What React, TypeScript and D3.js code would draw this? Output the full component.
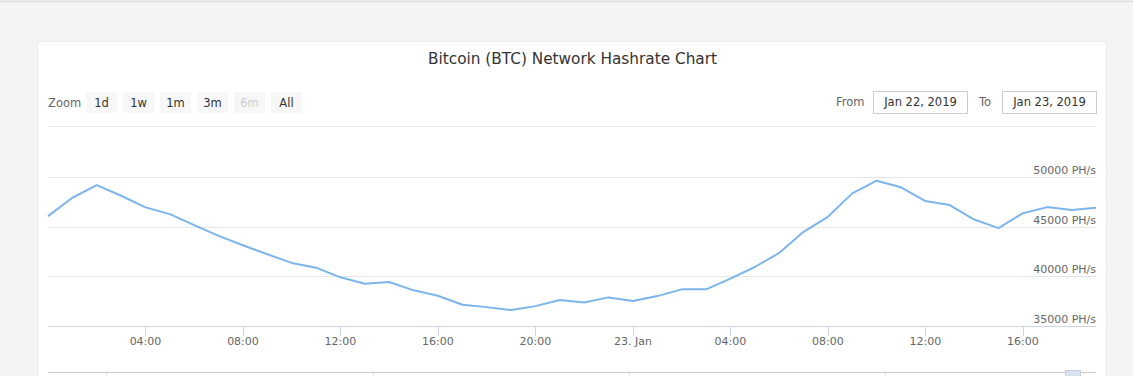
import React from "react";
import * as d3 from "d3";

const hashrate: number[] = [
  46060, 47910, 49190, 48110, 46940, 46260, 45150, 44070, 43130, 42220, 41350, 40870,
  39900, 39260, 39430, 38590, 38050, 37140, 36900, 36600, 37000, 37610, 37370, 37880,
  37510, 38010, 38690, 38690, 39770, 40940, 42350, 44480, 45990, 48350, 49630, 48960,
  47580, 47170, 45720, 44850, 46360, 46970, 46670, 46900,
];
const startTime = new Date(2019, 0, 22, 0, 0);
const times: Date[] = hashrate.map((_, i) => d3.timeHour.offset(startTime, i));
const yTicks: number[] = [35000, 40000, 45000, 50000];
const zoomButtons: string[] = ["1d", "1w", "1m", "3m", "6m", "All"];
const disabledButton = "6m";
const fromLabel = "Jan 22, 2019";
const toLabel = "Jan 23, 2019";
const title = "Bitcoin (BTC) Network Hashrate Chart";

const W = 1133;
const H = 376;
const FONT = "'DejaVu Sans', Verdana, sans-serif";

export default function App() {
  const x = d3.scaleTime().domain([times[0], times[times.length - 1]]).range([48, 1096]);
  const y = d3.scaleLinear().domain([35000, 50000]).range([326, 177]);
  const line = d3
    .line<number>()
    .x((_, i) => x(times[i]))
    .y((d) => y(d));
  const xTicks = d3.timeHour.every(4)!.range(times[0], d3.timeMinute.offset(times[times.length - 1], 1)).filter((t) => +t !== +times[0]);
  const fmt = (t: Date) =>
    t.getHours() === 0 ? d3.timeFormat("%-d. %b")(t) : d3.timeFormat("%H:%M")(t);

  const btnX0 = 86;
  const btnStep = 37;
  const navTicks = [106, 373, 629, 885];

  return (
    <svg
      width={W}
      height={H}
      style={{ position: "absolute", left: 0, top: 0, fontFamily: FONT }}
    >
      <rect x={0} y={0} width={W} height={H} fill="#f4f4f4" />
      <line x1={0} x2={W} y1={1.5} y2={1.5} stroke="#e2e2e2" strokeWidth={2} />
      <rect x={37} y={41} width={1070} height={H} fill="#ececec" />
      <rect x={38} y={42} width={1068} height={H} fill="#ffffff" />

      <text x={572.5} y={63.5} textAnchor="middle" fontSize={15.3} fill="#333333">
        {title}
      </text>

      {/* range selector */}
      <text x={48} y={107} fontSize={11.5} fill="#666666">
        Zoom
      </text>
      {zoomButtons.map((b, i) => (
        <g key={b} transform={`translate(${btnX0 + i * btnStep},92)`}>
          <rect width={31} height={21} fill="#f7f7f7" rx={0} />
          <text
            x={15.5}
            y={14.5}
            textAnchor="middle"
            fontSize={11.5}
            fill={b === disabledButton ? "#cccccc" : "#333333"}
          >
            {b}
          </text>
        </g>
      ))}
      <text x={836} y={106} fontSize={11.5} fill="#666666">
        From
      </text>
      <rect x={873.5} y={91.5} width={94} height={22} fill="#fff" stroke="#cccccc" />
      <text x={920.5} y={106} textAnchor="middle" fontSize={11.5} fill="#333333">
        {fromLabel}
      </text>
      <text x={979} y={106} fontSize={11.5} fill="#666666">
        To
      </text>
      <rect x={1002.5} y={91.5} width={94} height={22} fill="#fff" stroke="#cccccc" />
      <text x={1049.5} y={106} textAnchor="middle" fontSize={11.5} fill="#333333">
        {toLabel}
      </text>
      <line x1={48} x2={1096} y1={126.5} y2={126.5} stroke="#e6e6e6" />

      {/* grid */}
      {yTicks.map((v) => (
        <g key={v}>
          <line
            x1={48}
            x2={1096}
            y1={Math.round(y(v)) + 0.5}
            y2={Math.round(y(v)) + 0.5}
            stroke={v === 35000 ? "#ccd6eb" : "#e6e6e6"}
          />
          <text x={1096} y={y(v) - 3} textAnchor="end" fontSize={11} fill="#666666">
            {`${v} PH/s`}
          </text>
        </g>
      ))}

      {/* x axis */}
      {xTicks.map((t) => (
        <g key={+t}>
          <line
            x1={Math.round(x(t)) + 0.5}
            x2={Math.round(x(t)) + 0.5}
            y1={326}
            y2={336}
            stroke="#ccd6eb"
          />
          <text x={x(t)} y={345} textAnchor="middle" fontSize={11} fill="#666666">
            {fmt(t)}
          </text>
        </g>
      ))}

      <path d={line(hashrate) ?? ""} fill="none" stroke="#7cb5ec" strokeWidth={2} strokeLinejoin="round" />

      {/* navigator */}
      <line x1={48} x2={1096} y1={372.5} y2={372.5} stroke="#cccccc" />
      {navTicks.map((nx) => (
        <line key={nx} x1={nx + 0.5} x2={nx + 0.5} y1={373} y2={376} stroke="#e6e6e6" />
      ))}
      <rect x={1065.5} y={370.5} width={15} height={8} fill="#dbe2ef" stroke="#c5cfe0" />
    </svg>
  );
}
